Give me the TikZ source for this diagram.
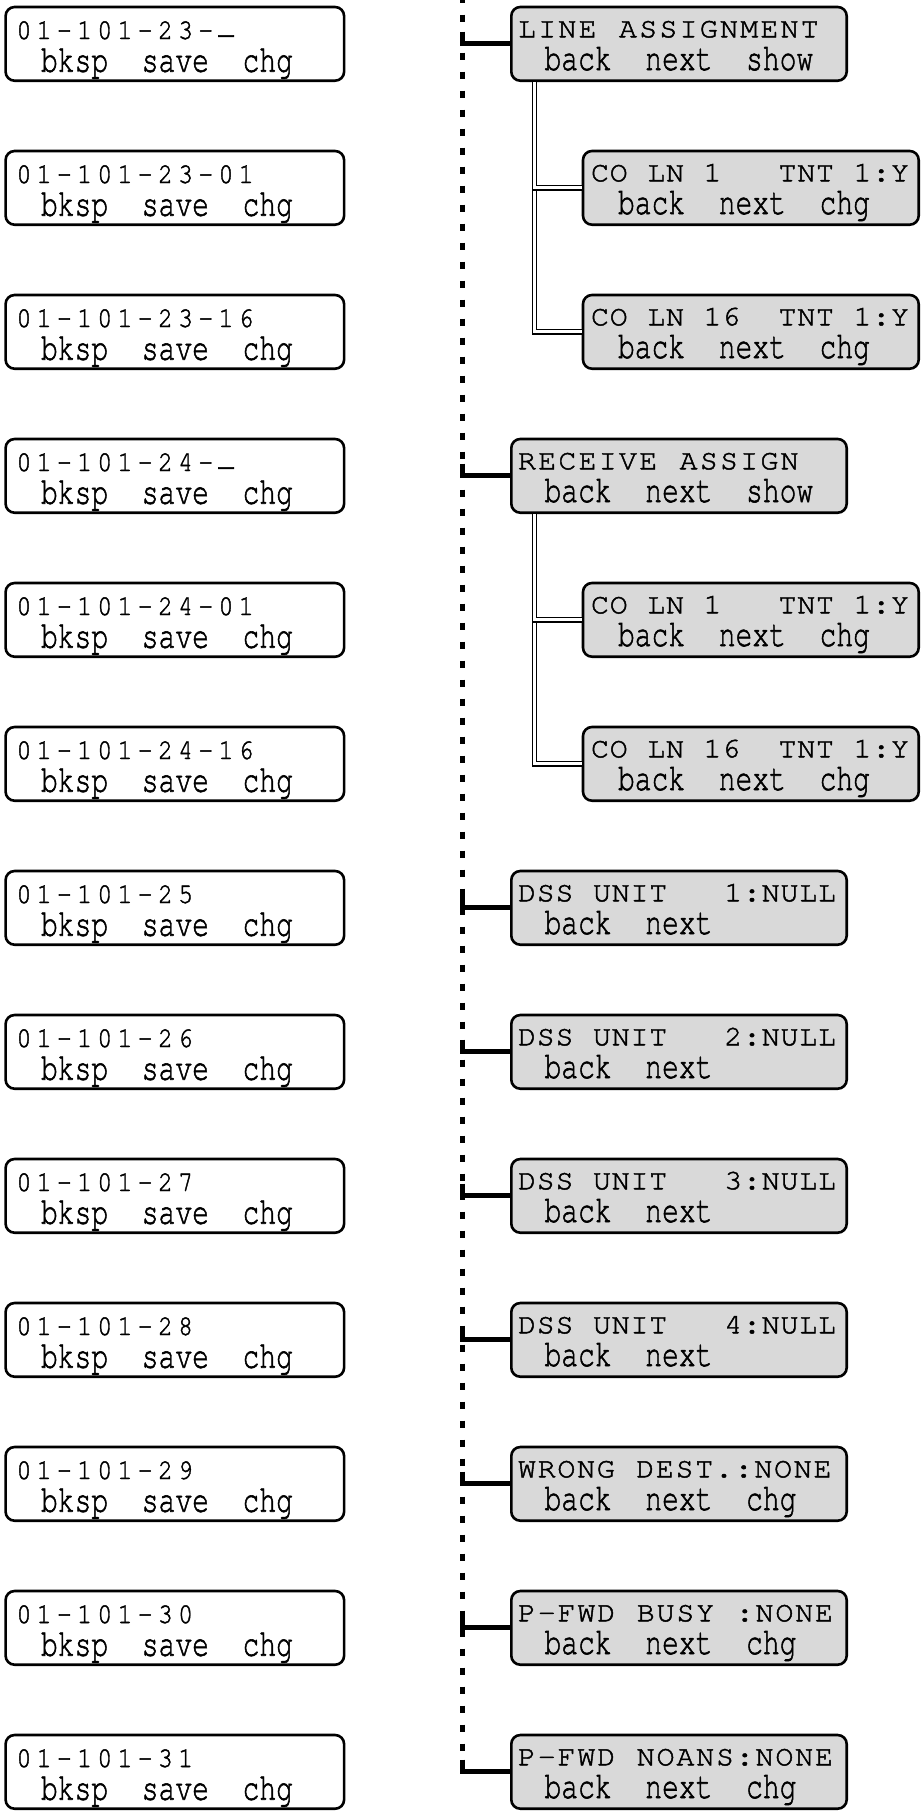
\documentclass[tikz,border=0pt]{standalone}
\usepackage{fontspec}
\usepackage{graphicx}
\newfontfamily\lcdfont[FakeBold=1.6]{TeX Gyre Cursor}
\definecolor{lcdgray}{RGB}{217,217,217}
\newlength\lcdp
\def\lcdend{\lcdend}
\def\lcdloop#1{\ifx#1\lcdend\else\makebox[\lcdp][l]{#1}\expandafter\lcdloop\fi}
\newcommand\lcdchars[2]{\setlength\lcdp{#1pt}\lcdloop#2\lcdend}
\newcommand\lcdtxt[4]{\scalebox{1}[#3]{\fontsize{#2}{#2}\selectfont\lcdfont\lcdchars{#1}{#4}}}
\newcommand\lcdTopL[1]{\lcdtxt{20.2}{25}{1.15}{#1}}
\newcommand\lcdTopR[2]{\lcdtxt{#1}{30}{0.95}{#2}}
\newcommand\lcdBot[1]{\scalebox{1}[1.36]{\fontsize{28}{28}\selectfont\lcdfont #1}}
\newcommand\us{\raisebox{5pt}{\_}}
% rows
\newcommand\Lrow[2]{%
  \node[lbox] (L#1) at (4.3,{5.7+144*#1}) {};
  \node[txt] (Lt#1) at (16.5,{39+144*#1}) {\lcdTopL{#2}};
  \node[txt] (Lb#1) at (41,{71.7+144*#1}) {\lcdBot{bksp~~save~~chg}};
}
\newcommand\Rrow[4]{%
  \node[rbox] (R#1) at (510,{5.7+144*#1}) {};
  \node[txt] (Rt#1) at (518,{37.3+144*#1}) {\lcdTopR{#2}{#3}};
  \node[txt] (Rb#1) at (544.5,{70+144*#1}) {\lcdBot{#4}};
  \coordinate (J#1) at (462.8,{5.7+144*#1+38-12});
  \draw[conn] (J#1) |- (R#1.west);
}
\newcommand\Srow[2]{%
  \node[sbox] (S#1) at (581.7,{5.7+144*#1}) {};
  \node[txt] (St#1) at (591,{37.3+144*#1}) {\lcdTopR{18.75}{#2}};
  \node[txt] (Sb#1) at (618,{70+144*#1}) {\lcdBot{back~~next~~chg}};
}
\begin{document}
\begin{tikzpicture}[x=1pt,y=-1pt,
  box/.style={draw,line width=2.6pt,rounded corners=9pt,anchor=north west,inner sep=0pt,minimum height=73.7pt},
  lbox/.style={box,fill=white,minimum width=338.5pt},
  rbox/.style={box,fill=lcdgray,minimum width=335.4pt},
  sbox/.style={box,fill=lcdgray,minimum width=335.7pt},
  txt/.style={inner sep=0pt,outer sep=0pt,anchor=base west},
  conn/.style={line width=4.8pt},
  dbl/.style={double,double distance=3.2pt,line width=1.1pt},
  spine/.style={line width=5pt,dash pattern=on 7pt off 12pt}]
\useasboundingbox (0,0) rectangle (923,1818);
% spine
\coordinate (spTop) at (462.8,-4.5);
\coordinate (spBot) at (462.8,1771.7);
\draw[spine] (spTop) -- (spBot);
% left column
\Lrow{0}{01-101-23-\us}
\Lrow{1}{01-101-23-01}
\Lrow{2}{01-101-23-16}
\Lrow{3}{01-101-24-\us}
\Lrow{4}{01-101-24-01}
\Lrow{5}{01-101-24-16}
\Lrow{6}{01-101-25}
\Lrow{7}{01-101-26}
\Lrow{8}{01-101-27}
\Lrow{9}{01-101-28}
\Lrow{10}{01-101-29}
\Lrow{11}{01-101-30}
\Lrow{12}{01-101-31}
% right column
\Rrow{0}{20.2}{LINE~ASSIGNMENT}{back~~next~~show}
\Rrow{3}{20.2}{RECEIVE~ASSIGN}{back~~next~~show}
\Rrow{6}{18.75}{DSS~UNIT~~~1:NULL}{back~~next}
\Rrow{7}{18.75}{DSS~UNIT~~~2:NULL}{back~~next}
\Rrow{8}{18.75}{DSS~UNIT~~~3:NULL}{back~~next}
\Rrow{9}{18.75}{DSS~UNIT~~~4:NULL}{back~~next}
\Rrow{10}{19.7}{WRONG~DEST.:NONE}{back~~next~~chg}
\Rrow{11}{19.8}{P-FWD~BUSY~:NONE}{back~~next~~chg}
\Rrow{12}{19.8}{P-FWD~NOANS:NONE}{back~~next~~chg}
% sub boxes
\Srow{1}{CO~LN~1~~~TNT~1:Y}
\Srow{2}{CO~LN~16~~TNT~1:Y}
\Srow{4}{CO~LN~1~~~TNT~1:Y}
\Srow{5}{CO~LN~16~~TNT~1:Y}
% double-line branches
\coordinate (D0) at (534.5,82);
\coordinate (D3) at (534.5,514);
\draw[dbl] (D0) |- (S2.west);
\draw[dbl] (D0) |- (S1.west);
\draw[dbl] (D3) |- (S5.west);
\draw[dbl] (D3) |- (S4.west);
\end{tikzpicture}
\end{document}
